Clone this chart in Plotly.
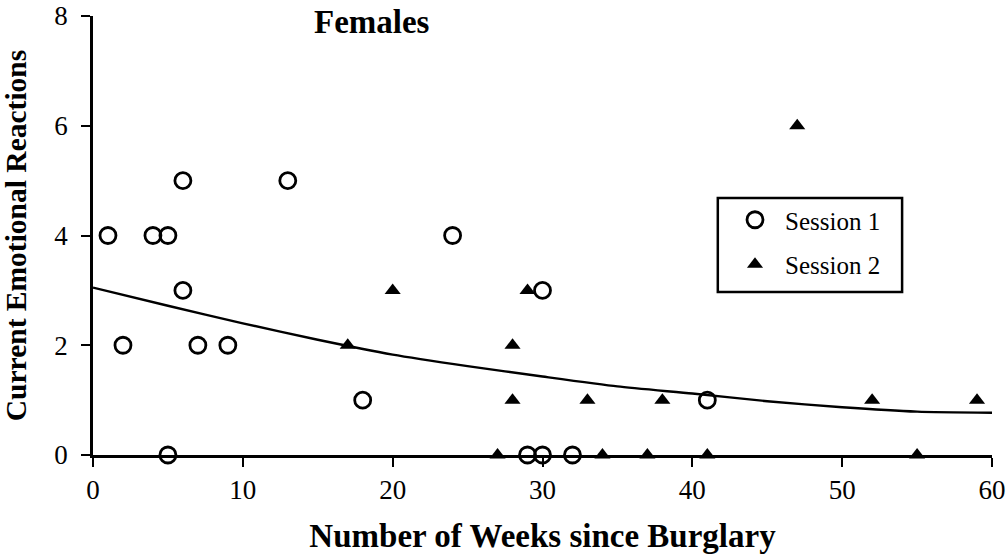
import plotly.graph_objects as go

# Session 1 (open circles)
s1_weeks = [1, 2, 4, 5, 6, 6, 7, 9, 5, 13, 18, 24, 30, 29, 30, 32, 41]
s1_react = [4, 2, 4, 4, 5, 3, 2, 2, 0, 5, 1, 4, 3, 0, 0, 0, 1]

# Session 2 (filled triangles)
s2_weeks = [17, 20, 29, 28, 28, 33, 38, 47, 52, 59, 27, 34, 37, 41, 55]
s2_react = [2, 3, 3, 2, 1, 1, 1, 6, 1, 1, 0, 0, 0, 0, 0]

# Smoothed fit curve
fit_weeks = [0, 5, 10, 15, 20, 25, 30, 35, 40, 45, 50, 55, 60]
fit_react = [3.05, 2.72, 2.40, 2.10, 1.83, 1.62, 1.43, 1.25, 1.12, 0.98, 0.87, 0.79, 0.77]

x_ticks = [0, 10, 20, 30, 40, 50, 60]
y_ticks = [0, 2, 4, 6, 8]

SERIF = "Liberation Serif, Times New Roman, serif"

fig = go.Figure()
fig.add_trace(go.Scatter(
    x=fit_weeks, y=fit_react, mode="lines",
    line=dict(color="black", width=2.4, shape="spline", smoothing=0.6),
    showlegend=False, hoverinfo="skip", cliponaxis=False))
fig.add_trace(go.Scatter(
    x=s1_weeks, y=s1_react, mode="markers", name="Session 1", legendgroup="s1",
    marker=dict(symbol="circle-open", size=16, color="black", line=dict(width=2.8, color="black")),
    cliponaxis=False))
fig.add_trace(go.Scatter(
    x=s2_weeks, y=s2_react, mode="markers", name="Session 2", legendgroup="s2",
    marker=dict(symbol="triangle-up", size=14, color="black"),
    cliponaxis=False))

PLOT_TOP, PLOT_BOTTOM = 16, 99
PLOT_H = 554 - PLOT_TOP - PLOT_BOTTOM


def py(pixel_y):
    """convert a page pixel row to paper y"""
    return (554 - PLOT_BOTTOM - pixel_y) / PLOT_H


fig.add_annotation(text="<b>Females</b>", x=0.31, y=py(22), xref="paper", yref="paper",
                   xanchor="center", yanchor="middle", showarrow=False,
                   font=dict(family=SERIF, size=33, color="black"))

# legend frame
fig.add_shape(type="rect", xref="paper", yref="paper",
              x0=0.695, x1=0.9, y0=py(292), y1=py(198),
              line=dict(color="black", width=2.5), fillcolor="rgba(0,0,0,0)", layer="above")

fig.update_layout(
    width=1008, height=554,
    margin=dict(l=93, r=16, t=PLOT_TOP, b=PLOT_BOTTOM),
    paper_bgcolor="white", plot_bgcolor="white",
    font=dict(family=SERIF, color="black"),
    legend=dict(x=0.703, y=py(197), xanchor="left", yanchor="top",
                borderwidth=0, bgcolor="rgba(0,0,0,0)",
                font=dict(family=SERIF, size=25, color="black"),
                tracegroupgap=9, itemwidth=50),
)
fig.update_xaxes(
    range=[0, 60], tickvals=x_ticks, ticktext=[str(v) for v in x_ticks],
    automargin=False, ticklabeloverflow="allow",
    showgrid=False, zeroline=False, showline=True, linecolor="black", linewidth=2.5,
    ticks="outside", ticklen=9, tickwidth=2, tickcolor="black",
    tickfont=dict(family=SERIF, size=27, color="black"),
    title=dict(text="<b>Number of Weeks since Burglary</b>", standoff=22,
               font=dict(family=SERIF, size=33, color="black")))
fig.update_yaxes(
    range=[0, 8.0001], tickvals=y_ticks, ticktext=[str(v) for v in y_ticks],
    automargin=False, ticklabeloverflow="allow",
    showgrid=False, zeroline=False, showline=True, linecolor="black", linewidth=2.5,
    ticks="outside", ticklen=9, tickwidth=2, tickcolor="black",
    ticklabelstandoff=8,
    tickfont=dict(family=SERIF, size=27, color="black"),
    title=dict(text="<b>Current Emotional Reactions</b>", standoff=22,
               font=dict(family=SERIF, size=29.5, color="black")))

fig.write_html("out.html", config={"displayModeBar": False},
               post_script="document.body.style.margin='0';document.body.style.padding='0';")
